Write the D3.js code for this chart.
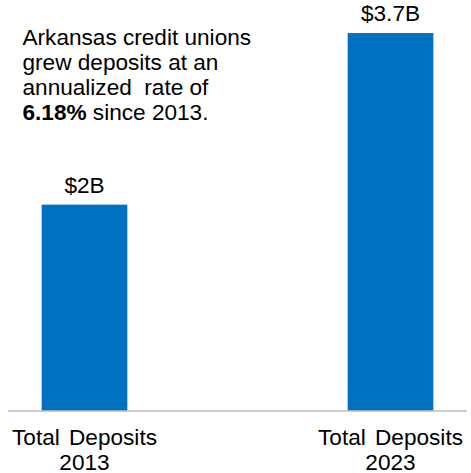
<!DOCTYPE html>
<html lang="en">
<head>
<meta charset="UTF-8">
<title>Arkansas credit union deposits</title>
<script src="https://d3js.org/d3.v7.min.js"></script>
<style>
  body { margin: 0; background: #fff; }
  svg text { font-family: "Liberation Sans", Arial, sans-serif; fill: #000; }
</style>
</head>
<body>
<svg class="chart"></svg>
<script>
const categories = ["Total Deposits|2013", "Total Deposits|2023"]
const deposits = [2.02, 3.7]          // billions of dollars
const valueLabels = ["$2B", "$3.7B"]
const noteLines = [
  [{ t: "Arkansas credit unions" }],
  [{ t: "grew deposits at an" }],
  [{ t: "annualized  rate of" }],
  [{ t: "6.18%", bold: true }, { t: " since 2013." }]
]

const svgW = 471
const svgH = 473
const baseY = 411
const fontSize = 22.6

const svg = d3.select(".chart").attr("width", svgW).attr("height", svgH)

const x = d3.scaleBand()
  .domain(categories)
  .range([8, 467])
  .paddingInner(0.72)
  .paddingOuter(0.11)

const y = d3.scaleLinear()
  .domain([0, 4])
  .range([baseY, 2.4])

// bars
svg.selectAll("rect.bar")
  .data(deposits)
  .join("rect")
  .attr("class", "bar")
  .attr("x", (d, i) => x(categories[i]))
  .attr("width", x.bandwidth())
  .attr("y", d => y(d))
  .attr("height", d => y(0) - y(d))
  .attr("fill", "#0070C0")

// baseline
svg.append("line")
  .attr("x1", x.range()[0]).attr("x2", x.range()[1])
  .attr("y1", baseY).attr("y2", baseY)
  .attr("stroke", "#BFBFBF")
  .attr("stroke-width", 1.5)

// value labels
svg.selectAll("text.value")
  .data(deposits)
  .join("text")
  .attr("class", "value")
  .attr("x", (d, i) => x(categories[i]) + x.bandwidth() / 2)
  .attr("y", d => y(d) - 12)
  .attr("text-anchor", "middle")
  .attr("font-size", fontSize)
  .text((d, i) => valueLabels[i])

// category labels (two lines)
const cat = svg.selectAll("text.cat")
  .data(categories)
  .join("text")
  .attr("class", "cat")
  .attr("text-anchor", "middle")
  .attr("font-size", fontSize)
cat.selectAll("tspan")
  .data(d => d.split("|").map(s => ({ s, cx: x(d) + x.bandwidth() / 2 })))
  .join("tspan")
  .attr("x", d => d.cx)
  .attr("y", (d, i) => 445 + i * 24.5)
  .attr("word-spacing", 3)
  .text(d => d.s)

// annotation
const note = svg.append("text")
  .attr("font-size", fontSize)
  .attr("xml:space", "preserve")
  .style("white-space", "pre")
noteLines.forEach((parts, i) => {
  parts.forEach((p, j) => {
    const ts = note.append("tspan").text(p.t)
    if (j === 0) ts.attr("x", 22.5).attr("y", 45 + i * 25)
    if (p.bold) ts.attr("font-weight", "bold")
  })
})
</script>
</body>
</html>
